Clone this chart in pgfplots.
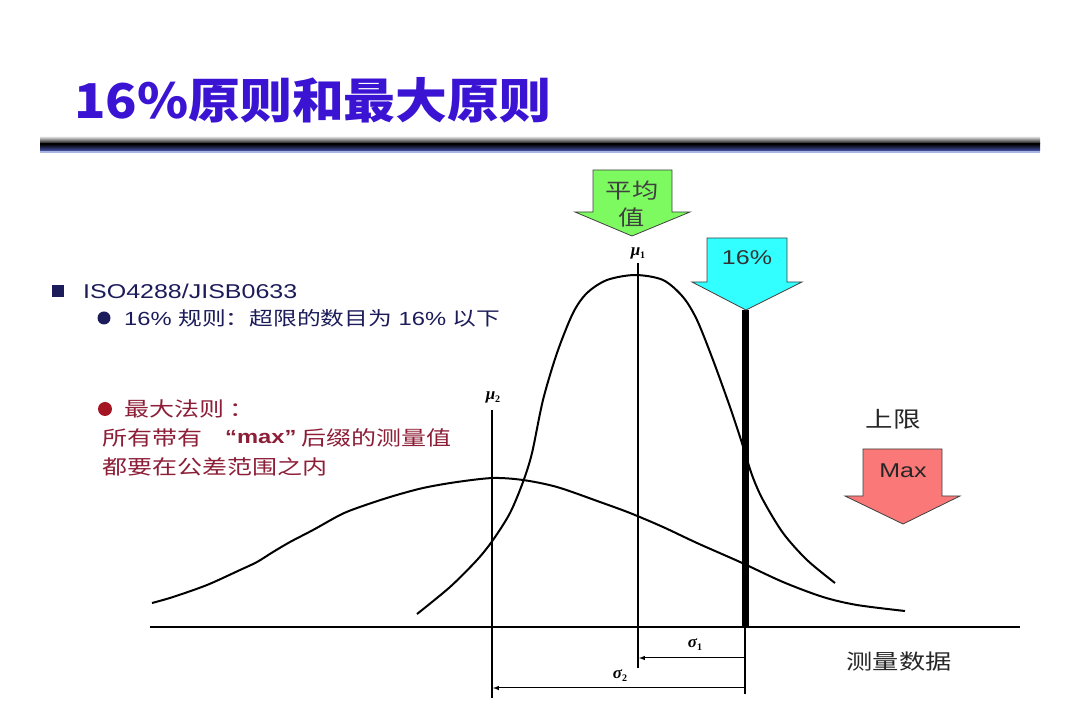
\documentclass[border=0pt]{standalone}
\usepackage{fontspec}
\usepackage{graphicx}
\usepackage{pgfplots}
\pgfplotsset{compat=1.18}
\setmainfont{Liberation Sans}
\newfontfamily\cjk{Noto Sans CJK SC}
\newfontfamily\greek{Liberation Serif}
\definecolor{titleblue}{RGB}{58,20,210}
\definecolor{navy}{RGB}{28,28,90}
\definecolor{dred}{RGB}{140,30,55}
\definecolor{bred}{RGB}{165,20,35}
\definecolor{agreen}{RGB}{125,250,95}
\definecolor{acyan}{RGB}{50,255,255}
\definecolor{ared}{RGB}{250,120,120}
\definecolor{barblue}{RGB}{70,85,170}
\definecolor{barlight}{RGB}{170,180,225}
\newcommand\sx[1]{\scalebox{1.25}[1]{#1}}
\newcommand\gl[2]{{\greek\fontsize{17}{17}\selectfont\bfseries\itshape #1\raisebox{-3pt}{\fontsize{10}{10}\selectfont\upshape #2}}}
\begin{document}
\begin{tikzpicture}
\begin{axis}[width=1080pt,height=723pt,scale only axis,at={(0,0)},anchor=south west,
  xmin=0,xmax=1080,ymin=0,ymax=723,y dir=reverse,hide axis,clip=false]
% curves
\addplot[smooth,black,line width=2pt] coordinates {
 (152,603)(173,597)(207,585)(240,570)(257,562)(273,552)(290,542)(313,530)(340,515)(357,508)(390,497)(423,488)(457,482)(493,478)(523,480)(557,487)(600,502)(630,513)(663,527)(697,543)(740,562)(783,582)(823,597)(857,605)(905,611)};
\addplot[smooth,black,line width=2pt] coordinates {
 (417,614)(450,587)(477,560)(493,540)(510,513)(523,482)(532,453)(543,400)(557,353)(573,313)(587,293)(607,280)(635,275)(663,280)(683,297)(697,320)(713,360)(730,407)(741,440)(752,475)(763,500)(783,533)(807,560)(835,583)};
% vertical lines and baseline
\addplot[black,line width=1.3pt] coordinates {(638,263)(638,668)};
\addplot[black,line width=1.3pt] coordinates {(492,410)(492,698)};
\addplot[black,line width=2pt] coordinates {(150,627)(1020,627)};
\addplot[black,line width=7pt] coordinates {(745,310)(745,627)};
\addplot[black,line width=1.3pt] coordinates {(745,627)(745,694)};
\coordinate (TL) at (axis cs:0,0);
\end{axis}
\begin{scope}[shift={(TL)},x=1pt,y=-1pt]
\path (0,0) rectangle (1080,723);
% title
\node[anchor=west,text=titleblue,inner sep=0pt] at (74,100)
  {\scalebox{1.08}[1]{\fontsize{48}{48}\cjk\bfseries 16\%原则和最大原则}};
% bar
\shade[top color=gray!30, bottom color=black] (40,137) rectangle (1040,144);
\shade[top color=black, bottom color=barblue] (40,144) rectangle (1040,151);
\fill[barlight] (40,151) rectangle (1040,153);
% left texts
\fill[navy] (52,285) rectangle (64,297);
\node[anchor=west,text=navy,inner sep=0pt] at (83,291)
  {\sx{\fontsize{20}{24}\selectfont ISO4288/JISB0633}};
\fill[navy] (104,318) circle (6.5pt);
\node[anchor=west,text=navy,inner sep=0pt] at (124,318)
  {\sx{\fontsize{19}{22}\selectfont 16\% {\cjk 规则：超限的数目为} 16\% {\cjk 以下}}};
\fill[bred] (105,409) circle (7pt);
\node[anchor=west,text=dred,inner sep=0pt] at (124,409)
  {\sx{\fontsize{20}{24}\cjk 最大法则 ：}};
\node[anchor=west,text=dred,inner sep=0pt] at (102,438)
  {\sx{\fontsize{20}{24}\cjk 所有带有}};
\node[anchor=west,text=dred,inner sep=0pt] at (225,437)
  {\sx{\fontsize{19}{24}\selectfont\bfseries\char"201C max\char"201D}};
\node[anchor=west,text=dred,inner sep=0pt] at (301,438)
  {\sx{\fontsize{20}{24}\cjk 后缀的测量值}};
\node[anchor=west,text=dred,inner sep=0pt] at (102,467)
  {\sx{\fontsize{20}{24}\cjk 都要在公差范围之内}};
% sigma dimensions
\draw[black,line width=1pt,->,>=latex] (745,658) -- (639,658);
\draw[black,line width=1pt,->,>=latex] (745,688) -- (493,688);
\node at (638,253) {\gl{μ}{1}};
\node at (493,397) {\gl{μ}{2}};
\node at (695,645) {\gl{σ}{1}};
\node at (620,676) {\gl{σ}{2}};
% arrows
\filldraw[fill=agreen,draw=black!75,line width=0.8pt] (593,170) -- (672,170) -- (672,212) -- (690,212) -- (632,236) -- (575,212) -- (593,212) -- cycle;
\node[text=black!75] at (632,191) {\sx{\fontsize{21}{22}\cjk 平均}};
\node[text=black!75] at (632,218) {\sx{\fontsize{21}{22}\cjk 值}};
\filldraw[fill=acyan,draw=black!75,line width=0.8pt] (707,238) -- (787,238) -- (787,282) -- (802,282) -- (746,310) -- (692,282) -- (707,282) -- cycle;
\node[text=black!80] at (747,258) {\sx{\fontsize{20}{22}\selectfont 16\%}};
\filldraw[fill=ared,draw=black!75,line width=0.8pt] (863,449) -- (942,449) -- (942,496) -- (960,496) -- (903,524) -- (845,496) -- (863,496) -- cycle;
\node[text=black!85] at (903,471) {\sx{\fontsize{20}{22}\selectfont Max}};
% other labels
\node[text=black!85] at (893,419) {\sx{\fontsize{22}{24}\cjk 上限}};
\node[text=black!85] at (899,662) {\sx{\fontsize{21}{24}\cjk 测量数据}};
\end{scope}
\end{tikzpicture}
\end{document}
